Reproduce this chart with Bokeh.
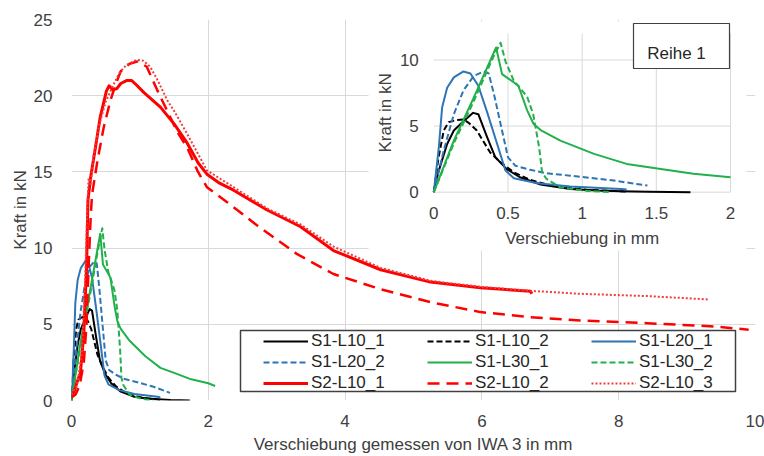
from bokeh.plotting import figure
from bokeh.models import Range1d, FixedTicker, Legend, LegendItem, BoxAnnotation
from bokeh.core.properties import value
from bokeh.embed import file_html
from bokeh.resources import INLINE

# ---------------- data ----------------
s1_l10_1_x = [0, 0.03, 0.09, 0.135, 0.2, 0.265, 0.30, 0.36, 0.415, 0.49, 0.58, 0.72, 0.92, 1.1, 1.26, 1.45, 1.73]
s1_l10_1_y = [0, 1.5, 3.65, 4.66, 5.36, 6.0, 5.9, 4.15, 2.64, 1.76, 1.13, 0.58, 0.25, 0.13, 0.08, 0.03, 0.0]

s1_l10_2_x = [0, 0.03, 0.067, 0.10, 0.15, 0.20, 0.24, 0.29, 0.38, 0.45, 0.54, 0.65, 0.81, 1.03, 1.3]
s1_l10_2_y = [0, 2.5, 4.66, 5.3, 5.45, 5.5, 5.2, 4.66, 3.0, 2.26, 1.5, 0.93, 0.45, 0.18, 0.05]

s1_l20_1_x = [0, 0.034, 0.056, 0.09, 0.135, 0.20, 0.247, 0.30, 0.36, 0.427, 0.483, 0.54, 0.70, 0.92, 1.26, 1.3]
s1_l20_1_y = [0, 3.4, 6.4, 7.9, 8.68, 9.13, 8.98, 8.05, 6.04, 3.65, 1.64, 1.06, 0.68, 0.43, 0.25, 0.2]

s1_l20_2_x = [0, 0.067, 0.135, 0.20, 0.27, 0.337, 0.37, 0.41, 0.46, 0.50, 0.55, 0.65, 0.76, 0.92, 1.2, 1.44]
s1_l20_2_y = [0, 3.15, 5.9, 7.7, 8.8, 9.13, 8.98, 7.2, 4.66, 2.64, 2.0, 1.69, 1.43, 1.25, 0.9, 0.5]

s1_l30_1_x = [0, 0.135, 0.27, 0.42, 0.46, 0.54, 0.57, 0.63, 0.673, 0.72, 0.853, 1.08, 1.30, 1.53, 1.75, 2.0, 2.1]
s1_l30_1_y = [0, 3.9, 7.17, 10.94, 8.93, 8.3, 8.05, 6.17, 5.16, 4.7, 3.9, 2.9, 2.14, 1.76, 1.39, 1.13, 0.95]

s1_l30_2_x = [0, 0.135, 0.27, 0.40, 0.45, 0.483, 0.54, 0.58, 0.63, 0.67, 0.71, 0.73, 0.76, 0.85, 1.03, 1.2]
s1_l30_2_y = [0, 3.7, 6.9, 10.2, 11.3, 9.9, 8.4, 7.9, 7.2, 5.9, 3.4, 1.5, 1.0, 0.38, 0.1, 0.0]

s2_l10_1_x = [0, 0.04, 0.08, 0.13, 0.18, 0.2, 0.22, 0.24, 0.28, 0.35, 0.42, 0.51, 0.55, 0.6, 0.66, 0.72,
              0.81, 0.88, 0.95, 1.06, 1.3, 1.5, 1.69, 1.85, 1.98, 2.15, 2.37, 2.86, 3.35, 3.83, 4.52, 5.25,
              5.98, 6.71, 6.73]
s2_l10_1_y = [0.3, 0.6, 1.2, 1.8, 4.4, 6.6, 8.7, 13.1, 14.65, 16.6, 18.6, 20.3, 20.65, 20.4, 20.45, 20.8,
              21.0, 21.0, 20.7, 20.2, 19.25, 18.15, 16.9, 15.6, 14.85, 14.3, 13.8, 12.5, 11.4, 9.84, 8.58, 7.77,
              7.4, 7.17, 7.0]

s2_l10_2_x = [0, 0.06, 0.12, 0.18, 0.22, 0.25, 0.28, 0.30, 0.38, 0.47, 0.57, 0.65, 0.72, 0.85, 0.97, 1.1,
              1.25, 1.40, 1.55, 1.69, 1.85, 1.98, 2.28, 2.71, 3.3, 3.83, 4.52, 5.25, 5.98, 6.71, 7.44, 8.42, 9.39, 9.9]
s2_l10_2_y = [0.2, 0.4, 1.0, 2.5, 5.0, 8.75, 12.0, 13.5, 15.75, 17.9, 19.7, 20.8, 21.6, 22.1, 22.25, 21.9,
              20.4, 19.0, 17.6, 16.6, 15.0, 14.0, 13.0, 11.5, 9.6, 8.3, 7.3, 6.45, 5.8, 5.47, 5.25, 5.07, 4.86, 4.65]

s2_l10_3_x = [0, 0.08, 0.15, 0.2, 0.23, 0.25, 0.28, 0.32, 0.4, 0.5, 0.6, 0.7, 0.8, 0.95, 1.05, 1.15, 1.25,
              1.4, 1.5, 1.69, 1.98, 2.37, 2.86, 3.35, 3.83, 4.52, 5.25, 6.0, 6.7, 7.44, 8.42, 9.32]
s2_l10_3_y = [0.4, 1.0, 3.0, 8.0, 12.5, 14.6, 14.2, 16.0, 18.0, 19.6, 20.6, 21.5, 22.0, 22.35, 22.3, 21.9, 21.1,
              19.7, 19.0, 17.5, 15.1, 14.0, 12.6, 11.55, 10.1, 8.7, 7.85, 7.45, 7.2, 7.0, 6.85, 6.63]

series_names = ["S1-L10_1", "S1-L10_2", "S1-L20_1", "S1-L20_2", "S1-L30_1", "S1-L30_2",
                "S2-L10_1", "S2-L10_2", "S2-L10_3"]

main_xticks = [0, 2, 4, 6, 8, 10]
main_yticks = [0, 5, 10, 15, 20, 25]
inset_xticks = [0, 0.5, 1, 1.5, 2]
inset_xlabels = ["0", "0.5", "1", "1.5", "2"]
inset_yticks = [0, 5, 10]
inset_ylabels = ["0", "5", "10"]
inset_ymax = 12

# ---------------- styles ----------------
FONT = "Liberation Sans"
TXT = "#404040"
GRID = "#d9d9d9"
styles = {
    "S1-L10_1": dict(color="#000000", dash="solid", w=2),
    "S1-L10_2": dict(color="#000000", dash="6 3", w=2),
    "S1-L20_1": dict(color="#2e75b6", dash="solid", w=2),
    "S1-L20_2": dict(color="#2e75b6", dash="6 3", w=2),
    "S1-L30_1": dict(color="#22b04b", dash="solid", w=2),
    "S1-L30_2": dict(color="#22b04b", dash="6 3", w=2),
    "S2-L10_1": dict(color="#ff0000", dash="solid", w=3),
    "S2-L10_2": dict(color="#ff0000", dash="12 7", w=2.5),
    "S2-L10_3": dict(color="#f03c3c", dash="2 2", w=2),
}
data = {
    "S1-L10_1": (s1_l10_1_x, s1_l10_1_y),
    "S1-L10_2": (s1_l10_2_x, s1_l10_2_y),
    "S1-L20_1": (s1_l20_1_x, s1_l20_1_y),
    "S1-L20_2": (s1_l20_2_x, s1_l20_2_y),
    "S1-L30_1": (s1_l30_1_x, s1_l30_1_y),
    "S1-L30_2": (s1_l30_2_x, s1_l30_2_y),
    "S2-L10_1": (s2_l10_1_x, s2_l10_1_y),
    "S2-L10_2": (s2_l10_2_x, s2_l10_2_y),
    "S2-L10_3": (s2_l10_3_x, s2_l10_3_y),
}

# frame pixel geometry
W, H = 764, 456
FL, FR, FT, FB = 71, 755, 19, 400
# inset pixel geometry (x=0, x=2, y=0, y=12)
IX0, IX2, IY0, IY12 = 433.3, 730.0, 191.7, 33.0
ix_scale = (IX2 - IX0) / 2.0
iy_scale = (IY0 - IY12) / 12.0
ix_range = Range1d((FL - IX0) / ix_scale, (FR - IX0) / ix_scale)
iy_range = Range1d((IY0 - FB) / iy_scale, (IY0 - FT) / iy_scale)

p = figure(width=W, height=H, output_backend="svg", toolbar_location=None,
           x_range=Range1d(0, 10), y_range=Range1d(0, 25),
           min_border_left=FL, min_border_right=W - FR, min_border_top=FT, min_border_bottom=H - FB)
p.extra_x_ranges = {"ix": ix_range}
p.extra_y_ranges = {"iy": iy_range}
p.outline_line_color = None
p.background_fill_color = "white"
p.border_fill_color = "white"

p.xaxis.ticker = FixedTicker(ticks=main_xticks)
p.yaxis.ticker = FixedTicker(ticks=main_yticks)
for ax in (p.xaxis[0], p.yaxis[0]):
    ax.axis_line_color = None
    ax.major_tick_line_color = None
    ax.minor_tick_line_color = None
    ax.major_label_text_font = FONT
    ax.major_label_text_font_size = "17px"
    ax.major_label_text_color = TXT
    ax.axis_label_text_font = FONT
    ax.axis_label_text_font_size = "17px"
    ax.axis_label_text_font_style = "normal"
    ax.axis_label_text_color = TXT
p.xaxis.axis_label = "Verschiebung gemessen von IWA 3 in mm"
p.yaxis.axis_label = "Kraft in kN"
p.xaxis.major_label_standoff = 8
p.xaxis.axis_label_standoff = 5
p.yaxis.major_label_standoff = 13
p.yaxis.axis_label_standoff = 1
p.grid.grid_line_color = GRID
p.grid.grid_line_width = 1

# main curves
main_r = {}
for name in series_names:
    st = styles[name]
    xs, ys = data[name]
    main_r[name] = p.line(xs, ys, line_color=st["color"], line_width=st["w"],
                          line_dash=st["dash"], line_join="round")

# ---------------- inset ----------------
IK = dict(x_range_name="ix", y_range_name="iy")
# white panel of the inset
p.quad(left=[(368 - IX0) / ix_scale], right=[(746 - IX0) / ix_scale],
       bottom=[(IY0 - 250) / iy_scale], top=[(IY0 - 21) / iy_scale],
       fill_color="white", line_color=None, **IK)
# inset grid
p.segment(x0=inset_xticks[1:], y0=[0] * 4, x1=inset_xticks[1:], y1=[inset_ymax] * 4,
          line_color=GRID, line_width=1, **IK)
p.segment(x0=[0] * 3, y0=inset_yticks, x1=[2] * 3, y1=inset_yticks,
          line_color=GRID, line_width=1, **IK)
# inset curves (S1 only, up to x=2)
for name in series_names[:6]:
    st = styles[name]
    xs, ys = data[name]
    pts = [(a, b) for a, b in zip(xs, ys) if a <= 2.0]
    p.line([a for a, _ in pts], [b for _, b in pts], line_color=st["color"], line_width=st["w"],
           line_dash=st["dash"], line_join="round", **IK)
# inset tick labels
p.text(x=inset_xticks, y=[0] * 5, text=inset_xlabels, y_offset=21, text_align="center",
       text_baseline="middle", text_font=value(FONT), text_font_size=value("17px"),
       text_color=TXT, **IK)
p.text(x=[0] * 3, y=inset_yticks, text=inset_ylabels, x_offset=-15, text_align="right",
       text_baseline="middle", text_font=value(FONT), text_font_size=value("17px"),
       text_color=TXT, **IK)
p.text(x=[1.0], y=[0], text=["Verschiebung in mm"], y_offset=46, text_align="center",
       text_baseline="middle", text_font=value(FONT), text_font_size=value("17px"),
       text_color=TXT, **IK)
p.text(x=[0], y=[inset_ymax / 2], text=["Kraft in kN"], x_offset=-48, angle=1.5708,
       text_align="center", text_baseline="middle", text_font=value(FONT),
       text_font_size=value("17px"), text_color=TXT, **IK)
# "Reihe 1" box
p.quad(left=[(633 - IX0) / ix_scale], right=[(729 - IX0) / ix_scale],
       bottom=[(IY0 - 68) / iy_scale], top=[(IY0 - 23) / iy_scale],
       fill_color="white", line_color="#404040", line_width=1.2, **IK)
p.text(x=[(676 - IX0) / ix_scale], y=[(IY0 - 53) / iy_scale], text=["Reihe 1"],
       text_align="center", text_baseline="middle", text_font=value(FONT),
       text_font_size=value("17px"), text_color="#262626", **IK)

# ---------------- legend ----------------
sx = lambda px: (px - FL) / (FR - FL) * 10
sy = lambda py: (FB - py) / (FB - FT) * 25
box = BoxAnnotation(left=sx(240), right=sx(735), bottom=sy(391), top=sy(330),
                    fill_color="white", fill_alpha=1.0, line_color="#404040", line_width=1.5,
                    line_alpha=1.0)
p.add_layout(box)
legend = Legend(items=[LegendItem(label=n, renderers=[main_r[n]]) for n in series_names],
                location=(263 - FL, FB - 393), orientation="horizontal", ncols=3,
                padding=0, spacing=1, margin=0, glyph_width=45, glyph_height=20,
                label_height=20, label_width=115, label_standoff=3,
                label_text_font=FONT, label_text_font_size="17px", label_text_color="#262626",
                border_line_alpha=0, background_fill_alpha=0)
p.add_layout(legend, "center")

open("out.html", "w").write(file_html(p, INLINE))
